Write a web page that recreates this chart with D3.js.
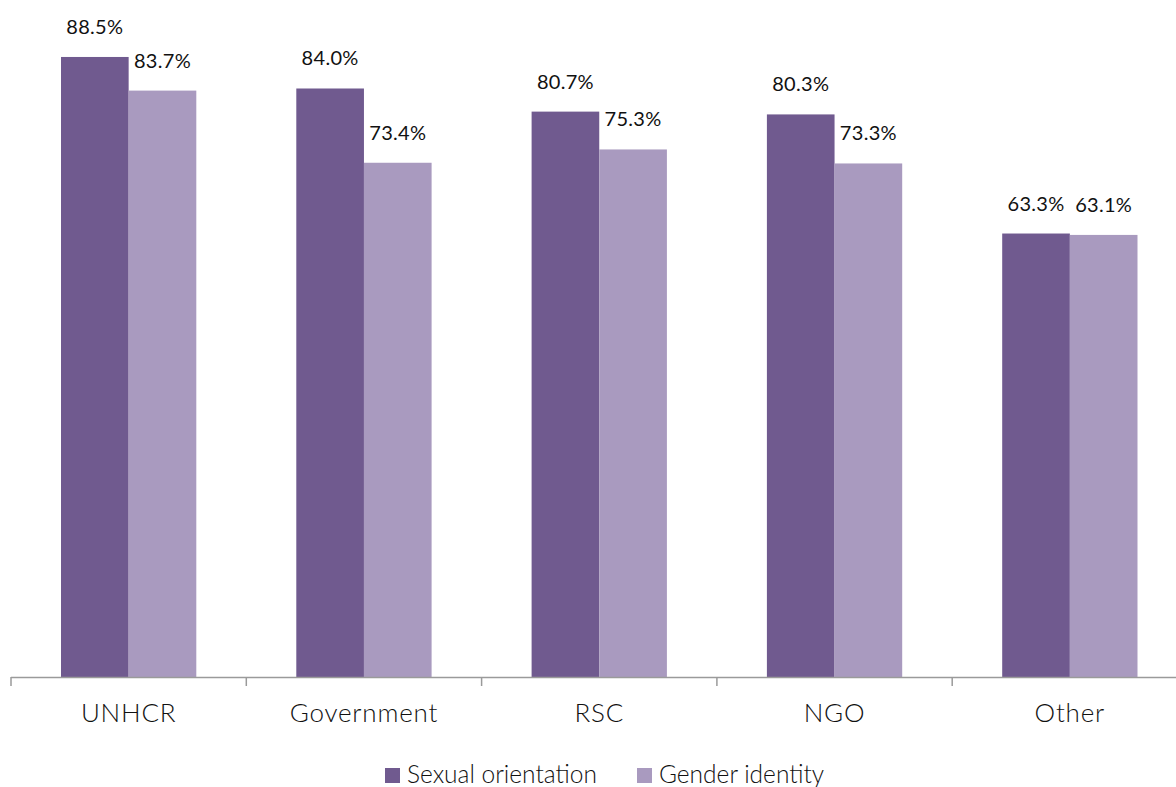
<!DOCTYPE html>
<html>
<head>
<meta charset="utf-8">
<script src="https://cdn.jsdelivr.net/npm/d3@7"></script>
<style>
  body { margin: 0; background: #fff; }
  svg { display: block; font-family: Lato, "Open Sans", sans-serif; }
</style>
</head>
<body>
<svg id="chart" width="1176" height="787"></svg>
<script>
const categories = ["UNHCR", "Government", "RSC", "NGO", "Other"];
const seriesNames = ["Sexual orientation", "Gender identity"];
const sexualOrientation = [88.5, 84.0, 80.7, 80.3, 63.3];
const genderIdentity = [83.7, 73.4, 75.3, 73.3, 63.1];
const seriesColors = ["#705A8F", "#A99ABF"];

const rows = categories.map((c, i) => ({
  category: c,
  values: [sexualOrientation[i], genderIdentity[i]]
}));

const svg = d3.select("#chart");
const baseY = 677;

const x = d3.scaleBand()
  .domain(categories)
  .range([11, 11 + 235.3 * categories.length])
  .paddingInner(0)
  .paddingOuter(0);

const xInner = d3.scaleBand()
  .domain(seriesNames)
  .range([50, x.bandwidth() - 50]);

const y = d3.scaleLinear().domain([0, 100]).range([baseY, baseY - 700.6]);

// Bars
const groups = svg.append("g").selectAll("g")
  .data(rows)
  .join("g")
  .attr("transform", d => `translate(${x(d.category)},0)`);

groups.selectAll("rect")
  .data(d => d.values.map((v, j) => ({ v, s: seriesNames[j], j })))
  .join("rect")
  .attr("x", d => xInner(d.s))
  .attr("width", xInner.bandwidth())
  .attr("y", d => y(d.v))
  .attr("height", d => baseY - y(d.v))
  .attr("fill", d => seriesColors[d.j]);

// Value labels
groups.selectAll("text")
  .data(d => d.values.map((v, j) => ({ v, s: seriesNames[j], j })))
  .join("text")
  .attr("x", d => xInner(d.s) + xInner.bandwidth() / 2)
  .attr("y", d => y(d.v) - 23)
  .attr("text-anchor", "middle")
  .attr("font-size", 20)
  .attr("letter-spacing", 0.3)
  .attr("fill", "#111")
  .text(d => d.v.toFixed(1) + "%");

// Category axis line and tick marks
svg.append("line")
  .attr("x1", x.range()[0]).attr("x2", x.range()[1])
  .attr("y1", baseY + 0.5).attr("y2", baseY + 0.5)
  .attr("stroke", "#9a9a9a").attr("stroke-width", 1.5);

svg.append("g").selectAll("line")
  .data(d3.range(categories.length + 1))
  .join("line")
  .attr("x1", i => x.range()[0] + i * x.step())
  .attr("x2", i => x.range()[0] + i * x.step())
  .attr("y1", baseY)
  .attr("y2", baseY + 9)
  .attr("stroke", "#9a9a9a").attr("stroke-width", 1.5);

svg.append("g").selectAll("text")
  .data(categories)
  .join("text")
  .attr("x", d => x(d) + x.bandwidth() / 2)
  .attr("y", baseY + 45)
  .attr("text-anchor", "middle")
  .attr("font-size", 26)
  .attr("font-weight", 300)
  .attr("letter-spacing", 0.8)
  .attr("fill", "#111")
  .text(d => d);

// Legend
const legendItems = [
  { name: seriesNames[0], color: seriesColors[0], x: 385 },
  { name: seriesNames[1], color: seriesColors[1], x: 637 }
];
const legend = svg.append("g").selectAll("g")
  .data(legendItems)
  .join("g")
  .attr("transform", d => `translate(${d.x},768)`);
legend.append("rect").attr("width", 15).attr("height", 15).attr("fill", d => d.color);
legend.append("text")
  .attr("x", 22).attr("y", 15)
  .attr("font-size", 24.5)
  .attr("font-weight", 300)
  .attr("fill", "#111")
  .text(d => d.name);
</script>
</body>
</html>
